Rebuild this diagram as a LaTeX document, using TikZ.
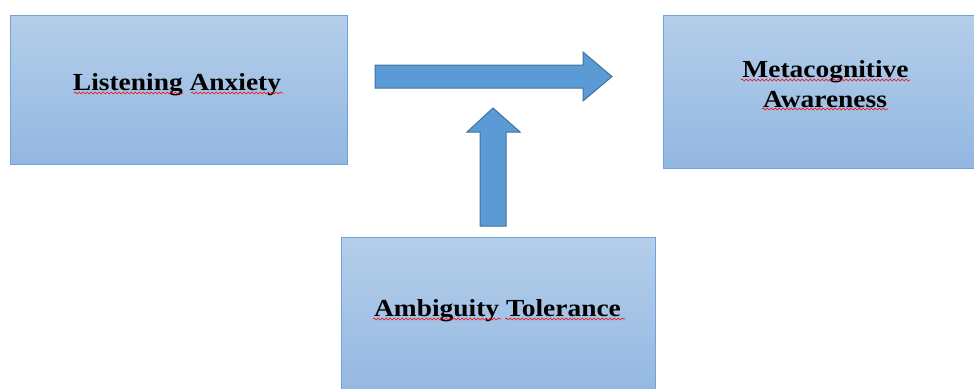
\documentclass[tikz,border=0pt]{standalone}
\usepackage{fontspec}
\setmainfont{Liberation Serif}
\newfontfamily\tnr[FakeStretch=1.12]{Liberation Serif}
\usetikzlibrary{decorations.pathmorphing}
\definecolor{boxtop}{HTML}{B4CEEA}
\definecolor{boxbot}{HTML}{93B7E2}
\definecolor{boxline}{HTML}{6FA3DA}
\definecolor{arrfill}{HTML}{5B9BD5}
\definecolor{arrline}{HTML}{41719C}
\tikzset{
  box/.style={rectangle, draw=boxline, line width=1pt, top color=boxtop, bottom color=boxbot, inner sep=0pt},
  lbl/.style={font=\tnr\bfseries\fontsize{24.5}{30}\selectfont, text=black, inner sep=0pt, align=center},
  blockarrow/.style={fill=arrfill, draw=arrline, line width=1pt, line join=miter},
  squig/.style={draw=red, line width=0.6pt, decorate, decoration={snake, amplitude=1pt, segment length=4pt}}
}
\begin{document}
\begin{tikzpicture}[x=1pt,y=-1pt]
\useasboundingbox (0,0) rectangle (974,388);
\clip (0,0) rectangle (974,388);
% boxes
\node[box, minimum width=337pt, minimum height=149pt] (la) at (178.5,89.5) {};
\node[box, minimum width=322pt, minimum height=153pt] (ma) at (824,91.5) {};
\node[box, minimum width=314pt, minimum height=163pt] (at) at (498,318.5) {};
% labels
\node[lbl, anchor=base] (tla) at (177,90) {Listening Anxiety};
\node[lbl, anchor=base] (tma1) at (825.5,77) {Metacognitive};
\node[lbl, anchor=base] (tma2) at (825,107) {Awareness};
\node[lbl, anchor=base] (tat) at (497.5,316) {Ambiguity Tolerance};
% spell-check underlines
\draw[squig] (74,93) -- (183,93);
\draw[squig] (191,93) -- (283,93);
\draw[squig] (741,80) -- (910,80);
\draw[squig] (762,109) -- (888,109);
\draw[squig] (373,319) -- (501,319);
\draw[squig] (505,319) -- (625,319);
% horizontal block arrow (la -> ma)
\coordinate (h0) at (375,76.5);
\coordinate (htip) at (612,76.5);
\draw[blockarrow] (375,65) -- (583,65) -- (583,52) -- (htip) -- (583,101) -- (583,88) -- (375,88) -- cycle;
% vertical block arrow (at -> arrow)
\coordinate (vtip) at (493,108);
\draw[blockarrow] (480,226) -- (480,132) -- (467,132) -- (vtip) -- (520,132) -- (506,132) -- (506,226) -- cycle;
\end{tikzpicture}
\end{document}
